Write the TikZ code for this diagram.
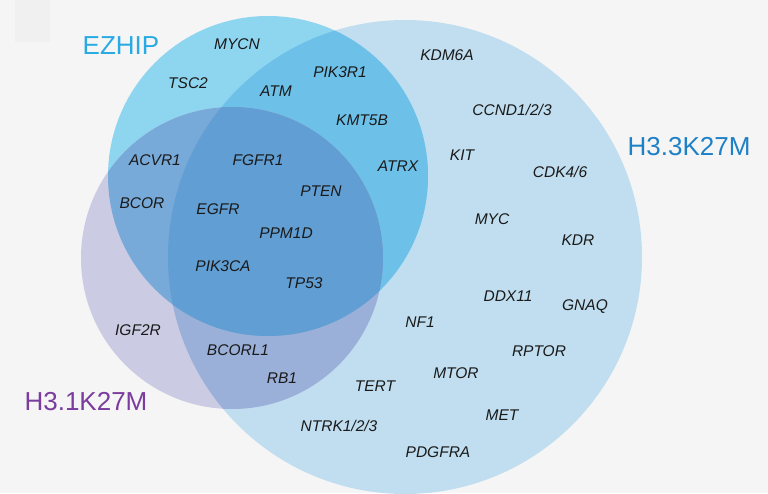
\documentclass[tikz,border=0pt]{standalone}
\usepackage{fontspec}
\setmainfont{Liberation Sans}
\definecolor{bgc}{HTML}{F5F5F5}
\definecolor{patch}{HTML}{F0F0F0}
\definecolor{bigc}{HTML}{C0DEEF}
\definecolor{ezc}{HTML}{8ED5F0}
\definecolor{ezbig}{HTML}{6DC1E9}
\definecolor{puc}{HTML}{CBCBE3}
\definecolor{pubig}{HTML}{9BB0D8}
\definecolor{puez}{HTML}{77A9D9}
\definecolor{allc}{HTML}{609ED3}
\definecolor{ezlab}{HTML}{2AAAE2}
\definecolor{h33lab}{HTML}{1E80C6}
\definecolor{h31lab}{HTML}{7A3C9E}
\definecolor{genec}{HTML}{1A1A1A}
\tikzset{
  gene/.style={font=\fontsize{15.5}{18}\selectfont\itshape, text=genec, inner sep=0pt},
  setlab/.style={font=\fontsize{26}{30}\selectfont, inner sep=0pt},
}
\begin{document}
\begin{tikzpicture}[x=1pt,y=-1pt]
  % canvas
  \fill[bgc] (0,0) rectangle (768,493);
  \useasboundingbox (0,0) rectangle (768,493);
  \fill[patch] (15,0) rectangle (50,42);

  % circle centres
  \coordinate (B) at (405,257);
  \coordinate (E) at (268,176);
  \coordinate (P) at (232,258);

  % H3.3K27M set
  \fill[bigc] (B) circle (237pt);
  % EZHIP set and its overlap with H3.3K27M
  \fill[ezc] (E) circle (160pt);
  \begin{scope}
    \clip (B) circle (237pt);
    \fill[ezbig] (E) circle (160pt);
  \end{scope}
  % H3.1K27M set and its overlaps
  \fill[puc] (P) circle (151pt);
  \begin{scope}
    \clip (B) circle (237pt);
    \fill[pubig] (P) circle (151pt);
  \end{scope}
  \begin{scope}
    \clip (E) circle (160pt);
    \fill[puez] (P) circle (151pt);
  \end{scope}
  \begin{scope}
    \clip (B) circle (237pt);
    \clip (E) circle (160pt);
    \fill[allc] (P) circle (151pt);
  \end{scope}

  % set labels
  \node[setlab, text=ezlab] (lEZ) at (121,46) {EZHIP};
  \node[setlab, text=h33lab] (lH33) at (689,147) {H3.3K27M};
  \node[setlab, text=h31lab] (lH31) at (86,402) {H3.1K27M};

  % genes
  \node[gene] (g1) at (237,44) {MYCN};
  \node[gene] (g2) at (188,83) {TSC2};
  \node[gene] (g3) at (276,91) {ATM};
  \node[gene] (g4) at (340,72) {PIK3R1};
  \node[gene] (g5) at (447,55) {KDM6A};
  \node[gene] (g6) at (512,110) {CCND1/2/3};
  \node[gene] (g7) at (362,120) {KMT5B};
  \node[gene] (g8) at (398,166) {ATRX};
  \node[gene] (g9) at (462,155) {KIT};
  \node[gene] (g10) at (560,172) {CDK4/6};
  \node[gene] (g11) at (155,160) {ACVR1};
  \node[gene] (g12) at (258,160) {FGFR1};
  \node[gene] (g13) at (321,191) {PTEN};
  \node[gene] (g14) at (142,203) {BCOR};
  \node[gene] (g15) at (218,209) {EGFR};
  \node[gene] (g16) at (492,219) {MYC};
  \node[gene] (g17) at (578,240) {KDR};
  \node[gene] (g18) at (286,233) {PPM1D};
  \node[gene] (g19) at (223,266) {PIK3CA};
  \node[gene] (g20) at (304,283) {TP53};
  \node[gene] (g21) at (508,296) {DDX11};
  \node[gene] (g22) at (585,307) {GNAQ};
  \node[gene] (g23) at (138,330) {IGF2R};
  \node[gene] (g24) at (420,322) {NF1};
  \node[gene] (g25) at (238,350) {BCORL1};
  \node[gene] (g26) at (539,351) {RPTOR};
  \node[gene] (g27) at (282,378) {RB1};
  \node[gene] (g28) at (375,386) {TERT};
  \node[gene] (g29) at (456,373) {MTOR};
  \node[gene] (g30) at (502,415) {MET};
  \node[gene] (g31) at (339,426) {NTRK1/2/3};
  \node[gene] (g32) at (438,452) {PDGFRA};
\end{tikzpicture}
\end{document}
